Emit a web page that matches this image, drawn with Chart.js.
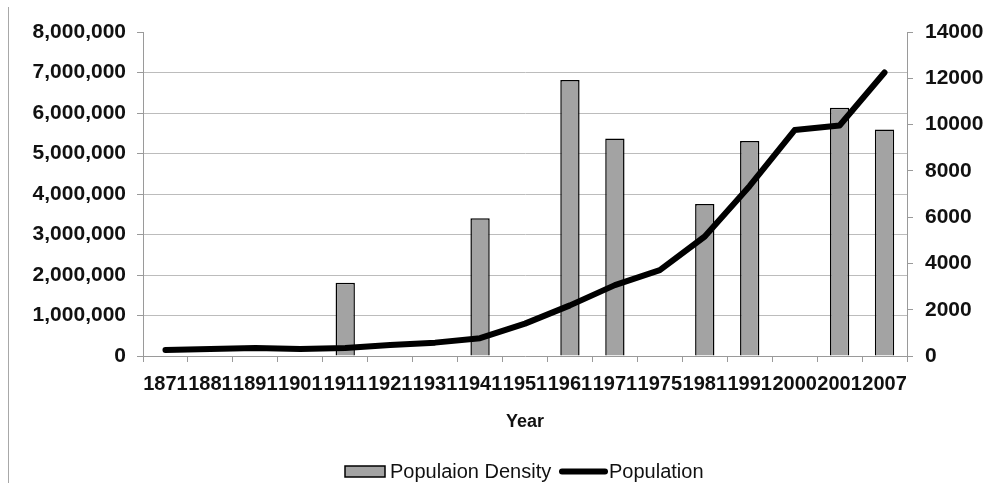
<!DOCTYPE html>
<html>
<head>
<meta charset="utf-8">
<script src="https://cdn.jsdelivr.net/npm/chart.js@4.4.1/dist/chart.umd.min.js"></script>
<style>
  html, body { margin: 0; padding: 0; background: #fff; }
  #wrap { position: relative; width: 994px; height: 483px; }
  #frame { position: absolute; left: 8px; top: 7px; width: 0; height: 476px; border-left: 1px solid #a8a8a8; }
  canvas { position: absolute; left: 0; top: 0; }
</style>
</head>
<body>
<div id="wrap">
  <div id="frame"></div>
  <canvas id="chart" width="994" height="483"></canvas>
</div>
<script>
// Census years
const years = ['1871','1881','1891','1901','1911','1921','1931','1941','1951','1961','1971','1975','1981','1991','2000','2001','2007'];

// Population density (right axis); null where no figure exists
const density = [null, null, null, null, 3160, null, null, 5950, null, 11930, 9400, null, 6570, 9290, null, 10730, 9790];

// Population (left axis)
const population = [150000, 170000, 200000, 170000, 200000, 270000, 330000, 440000, 800000, 1250000, 1750000, 2120000, 2950000, 4200000, 5580000, 5690000, 7000000];

// Axis tick ranges
const popTicks = { min: 0, max: 8000000, step: 1000000 };
const densityTicks = { min: 0, max: 14000, step: 2000 };

const BAR_FILL = '#a3a3a3';
const AXIS_GREY = '#9a9a9a';
const GRID_GREY = '#bcbcbc';
const FONT = '"Liberation Sans", Arial, Helvetica, sans-serif';

// Legend painted below the axis title
const legendPlugin = {
  id: 'bottomLegend',
  afterDraw(chart) {
    const c = chart.ctx;
    c.save();
    const cy = 471.5;
    c.fillStyle = BAR_FILL;
    c.strokeStyle = '#000';
    c.lineWidth = 1.5;
    c.fillRect(345, 466, 40, 11);
    c.strokeRect(345, 466, 40, 11);
    c.font = '20px ' + FONT;
    c.fillStyle = '#111';
    c.textBaseline = 'middle';
    c.textAlign = 'left';
    c.fillText(chart.data.datasets[0].label, 390, cy + 1);
    c.beginPath();
    c.lineCap = 'round';
    c.lineWidth = 6;
    c.strokeStyle = '#000';
    c.moveTo(562, cy);
    c.lineTo(605, cy);
    c.stroke();
    c.fillText(chart.data.datasets[1].label, 609, cy + 1);
    c.restore();
  }
};

new Chart(document.getElementById('chart'), {
  data: {
    labels: years,
    datasets: [
      {
        type: 'bar',
        label: 'Populaion Density',
        data: density,
        yAxisID: 'yDensity',
        backgroundColor: BAR_FILL,
        borderColor: '#000',
        borderWidth: 1.5,
        barPercentage: 0.43,
        categoryPercentage: 1,
        order: 2
      },
      {
        type: 'line',
        label: 'Population',
        data: population,
        yAxisID: 'yPop',
        borderColor: '#000',
        backgroundColor: '#000',
        borderWidth: 6,
        pointRadius: 0,
        tension: 0,
        borderCapStyle: 'round',
        borderJoinStyle: 'round',
        fill: false,
        order: 1
      }
    ]
  },
  options: {
    responsive: false,
    animation: false,
    devicePixelRatio: 1,
    layout: { padding: { top: 32, left: 0, right: 0, bottom: 47 } },
    plugins: {
      legend: { display: false },
      tooltip: { enabled: false }
    },
    scales: {
      x: {
        type: 'category',
        offset: true,
        grid: {
          offset: true,
          drawOnChartArea: false,
          tickLength: 6,
          tickColor: AXIS_GREY
        },
        border: { display: true, color: AXIS_GREY, width: 1 },
        ticks: {
          color: '#111',
          font: { family: FONT, size: 20, weight: 'bold' },
          padding: 10,
          maxRotation: 0,
          autoSkip: false
        },
        title: {
          display: true,
          text: 'Year',
          color: '#111',
          font: { family: FONT, size: 18, weight: 'bold' },
          padding: { top: 0, bottom: 3 }
        },
        afterFit(scale) { scale.height = 80; }
      },
      yPop: {
        type: 'linear',
        position: 'left',
        min: popTicks.min,
        max: popTicks.max,
        grid: {
          tickLength: 6,
          tickColor: AXIS_GREY,
          color: (ctx) => (ctx.tick && (ctx.tick.value === popTicks.max || ctx.tick.value === 0)) ? 'rgba(0,0,0,0)' : GRID_GREY,
          lineWidth: 1
        },
        border: { display: true, color: AXIS_GREY, width: 1 },
        ticks: {
          stepSize: popTicks.step,
          color: '#111',
          padding: 11,
          font: { family: FONT, size: 21, weight: 'bold' },
          callback: (v) => Number(v).toLocaleString('en-US')
        },
        afterFit(scale) { scale.width = 143; }
      },
      yDensity: {
        type: 'linear',
        position: 'right',
        min: densityTicks.min,
        max: densityTicks.max,
        grid: {
          drawOnChartArea: false,
          tickLength: 6,
          tickColor: AXIS_GREY
        },
        border: { display: true, color: AXIS_GREY, width: 1 },
        ticks: {
          stepSize: densityTicks.step,
          color: '#111',
          padding: 12,
          font: { family: FONT, size: 21, weight: 'bold' },
          callback: (v) => String(v)
        },
        afterFit(scale) { scale.width = 87; }
      }
    }
  },
  plugins: [legendPlugin]
});
</script>
</body>
</html>
